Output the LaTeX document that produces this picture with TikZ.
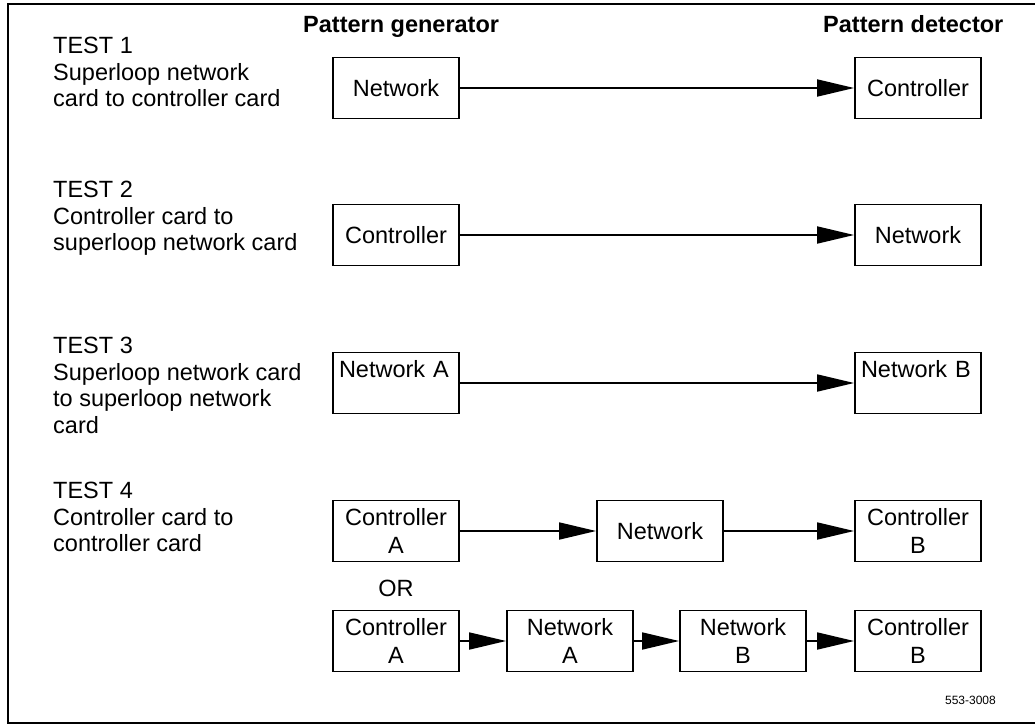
\documentclass[tikz,border=0pt]{standalone}
\usepackage{fontspec}
\setmainfont{Liberation Sans}
\usetikzlibrary{positioning,arrows.meta}

\begin{document}
\begin{tikzpicture}[
  x=1pt, y=-1pt,
  font=\fontsize{23.5}{26.5}\selectfont,
  card/.style={rectangle,draw,line width=1.8pt,minimum width=126pt,minimum height=61pt,
               inner sep=2pt,align=center},
  topcard/.style={card,align=left,text width=114pt,text height=21pt,text depth=32pt,
                  inner xsep=6pt,inner ysep=4pt},
  twoline/.style={card,font=\fontsize{23.5}{28}\selectfont},
  testlbl/.style={anchor=north west,align=left,inner sep=0pt},
  head/.style={anchor=base west,inner sep=0pt,font=\fontsize{23.5}{26.5}\selectfont\bfseries},
  plain/.style={inner sep=0pt},
  link/.style={line width=1.8pt,-{Triangle[length=37pt,width=17pt]}},
]
\useasboundingbox (0,0) rectangle (1035,725);

% outer frame, runs off on the right
\draw[line width=1.8pt] (1040,4) -- (8,4) -- (8,723) -- (1040,723);

% ---------- column headings ----------
\node[head] (gen) at (303,33) {Pattern generator};
\node[head] (det) at (823,33) {Pattern detector};

% ---------- test descriptions ----------
\node[testlbl] (t1) at (53,37)  {TEST 1\\Superloop network\\card to controller card};
\node[testlbl] (t2) at (53,181) {TEST 2\\Controller card to\\superloop network card};
\node[testlbl] (t3) at (53,337) {TEST 3\\Superloop network card\\to superloop network\\card};
\node[testlbl] (t4) at (53,482) {TEST 4\\Controller card to\\controller card};

% ---------- test 1 ----------
\node[card] (net1) at (396,88) {Network};
\node[card] (ctl1) at (918,88) {Controller};
\draw[link] (net1) -- (ctl1);

% ---------- test 2 ----------
\node[card] (ctl2) at (396,235) {Controller};
\node[card] (net2) at (918,235) {Network};
\draw[link] (ctl2) -- (net2);

% ---------- test 3 ----------
\node[topcard] (netA3) at (396,383) {Network A};
\node[topcard] (netB3) at (918,383) {Network B};
\draw[link] (netA3) -- (netB3);

% ---------- test 4, via one network card ----------
\node[twoline] (ctlA4) at (396,531) {Controller\\A};
\node[card]    (net4)  at (660,531) {Network};
\node[twoline] (ctlB4) at (918,531) {Controller\\B};
\draw[link] (ctlA4) -- (net4);
\draw[link] (net4) -- (ctlB4);

\node[plain,below=17pt of ctlA4] (or) {OR};

% ---------- test 4, via two network cards ----------
\node[twoline] (ctlA5) at (396,641) {Controller\\A};
\node[twoline] (netA5) at (570,641) {Network\\A};
\node[twoline] (netB5) at (743,641) {Network\\B};
\node[twoline] (ctlB5) at (918,641) {Controller\\B};
\draw[link] (ctlA5) -- (netA5);
\draw[link] (netA5) -- (netB5);
\draw[link] (netB5) -- (ctlB5);

\node[plain,anchor=base east,font=\fontsize{12}{14}\selectfont] (fignum) at (996,704) {553-3008};
\end{tikzpicture}
\end{document}
